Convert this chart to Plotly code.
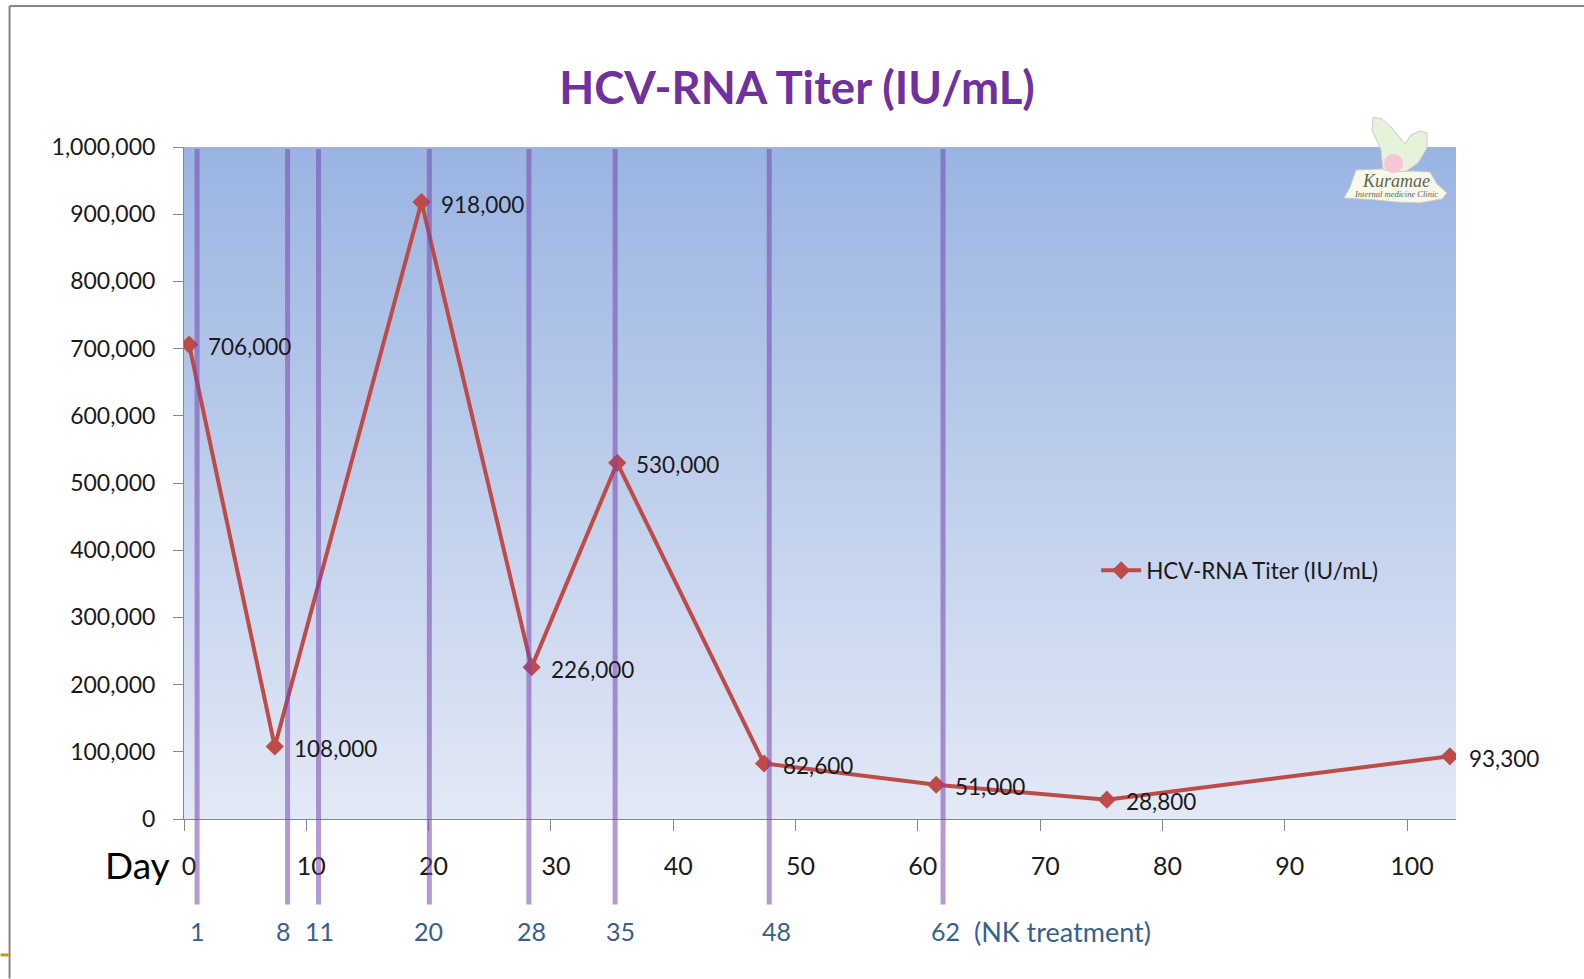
import plotly.graph_objects as go

W, H = 1584, 979
L, R, T, B = 183.5, 1456, 147, 819.5

days = [0.42, 7.42, 19.42, 28.42, 35.42, 47.42, 61.5, 75.45, 103.5]
titer = [706000, 108000, 918000, 226000, 530000, 82600, 51000, 28800, 93300]
value_labels = ["706,000", "108,000", "918,000", "226,000", "530,000", "82,600", "51,000", "28,800", "93,300"]
label_yshift = [-2, -2, -2, -2, -2, -2, -2, -2, -2]
nk_positions = [1.07, 8.47, 11.0, 20.06, 28.2, 35.25, 47.85, 62.06]
nk_labels = ["1", "8", "11", "20", "28", "35", "48", "62"]
nk_label_px = [197, 283, 319, 428, 531, 620, 776, 945]
x_ticks = [0, 10, 20, 30, 40, 50, 60, 70, 80, 90, 100]
y_ticks = [0, 100000, 200000, 300000, 400000, 500000, 600000, 700000, 800000, 900000, 1000000]

FONT = "Lato"
GREY = "#868686"


def px(p):
    return (p - L) / (R - L)


def py(p):
    return (B - p) / (B - T)


def path(points):
    return "M " + " L ".join(f"{px(a):.5f},{py(b):.5f}" for a, b in points) + " Z"


fig = go.Figure()
fig.add_trace(go.Heatmap(
    x=[0, 104], y=[0, 1000000], z=[[0, 0], [1, 1]], zsmooth="best", showscale=False,
    colorscale=[[0, "#E3E9F6"], [1, "#9AB4E2"]], hoverinfo="skip", showlegend=False,
))
fig.add_trace(go.Scatter(
    x=days, y=titer, mode="lines+markers", name="HCV-RNA Titer (IU/mL)",
    line=dict(color="#BE4B48", width=4),
    marker=dict(symbol="diamond", size=14, color="#BE4B48"),
))

shapes = []
for pos in nk_positions:
    shapes.append(dict(type="line", xref="x", yref="paper", x0=pos, x1=pos,
                       y0=py(905), y1=py(149),
                       line=dict(color="rgba(118,70,175,0.55)", width=5)))
# slide frame
shapes.append(dict(type="line", xref="paper", yref="paper", x0=px(9), x1=px(1584), y0=py(6), y1=py(6),
                   line=dict(color=GREY, width=2)))
shapes.append(dict(type="line", xref="paper", yref="paper", x0=px(9), x1=px(9), y0=py(6), y1=py(979),
                   line=dict(color=GREY, width=2)))
shapes.append(dict(type="line", xref="paper", yref="paper", x0=px(0), x1=px(8), y0=py(955.5), y1=py(955.5),
                   line=dict(color="#CC9900", width=3)))
# clinic logo
logo_line = dict(color="#C9CBC0", width=1)
shapes.append(dict(type="path", xref="paper", yref="paper", fillcolor="#E6F3DA", line=logo_line,
                   path=path([(1373, 117), (1382, 119), (1392, 128), (1405, 144), (1411, 135), (1420, 131),
                              (1427, 133), (1427, 148), (1418, 163), (1405, 172), (1383, 172), (1381, 150), (1372, 130)])))
shapes.append(dict(type="path", xref="paper", yref="paper", fillcolor="#F7F8EC", line=logo_line,
                   path=path([(1356, 170), (1382, 169), (1392, 172), (1412, 171), (1430, 172), (1437, 184),
                              (1447, 193), (1442, 199), (1420, 203), (1395, 202), (1375, 200), (1344, 198), (1350, 187)])))
shapes.append(dict(type="circle", xref="paper", yref="paper", fillcolor="#F7C6D6", line=dict(width=0),
                   x0=px(1384), x1=px(1403), y0=py(173), y1=py(154)))

ann = []
for d, v, t, s in zip(days, titer, value_labels, label_yshift):
    ann.append(dict(x=d, y=v, text=t, xref="x", yref="y", xanchor="left", yanchor="middle", showarrow=False,
                    xshift=17, yshift=s, font=dict(family=FONT, size=22.5, color="#1A1A1A")))
for t, p in zip(nk_labels, nk_label_px):
    ann.append(dict(x=px(p), y=py(932), text=t, xref="paper", yref="paper", xanchor="center", yanchor="middle",
                    showarrow=False, font=dict(family=FONT, size=25, color="#376092")))
ann.append(dict(x=px(972), y=py(932), text="(NK treatment)", xref="paper", yref="paper", xanchor="left",
                yanchor="middle", showarrow=False, font=dict(family=FONT, size=27, color="#376092")))
ann.append(dict(x=px(137), y=py(865), text="Day", xref="paper", yref="paper", xanchor="center", yanchor="middle",
                showarrow=False, font=dict(family=FONT, size=37, color="#000000")))
ann.append(dict(x=px(1396), y=py(181), text="<i>Kuramae</i>", xref="paper", yref="paper", xanchor="center",
                yanchor="middle", showarrow=False, font=dict(family="Liberation Serif", size=18, color="#5F6650")))
ann.append(dict(x=px(1396), y=py(194), text="<i>Internal medicine Clinic</i>", xref="paper", yref="paper",
                xanchor="center", yanchor="middle", showarrow=False,
                font=dict(family="Liberation Serif", size=8.5, color="#5F6650")))

fig.update_layout(
    width=W, height=H, margin=dict(l=L, r=W - R, t=T, b=H - B, pad=0),
    paper_bgcolor="#FFFFFF", plot_bgcolor="#FFFFFF",
    title=dict(text="<b>HCV-RNA Titer (IU/mL)</b>", x=797 / W, xanchor="center", y=1 - 88 / H, yanchor="middle",
               font=dict(family=FONT, size=45.5, color="#7030A0")),
    xaxis=dict(range=[0, 104], tickmode="array", tickvals=x_ticks, ticks="outside", ticklen=11, tickcolor=GREY,
               tickwidth=1, showline=True, linecolor=GREY, linewidth=1, showgrid=False, zeroline=False,
               ticklabelstandoff=14, ticklabelshift=5, tickfont=dict(family=FONT, size=25, color="#1A1A1A")),
    yaxis=dict(range=[0, 1000000], tickmode="array", tickvals=y_ticks, tickformat=",", ticks="outside", ticklen=10,
               tickcolor=GREY, tickwidth=1, showline=True, linecolor=GREY, linewidth=1, showgrid=False, zeroline=False,
               ticklabelstandoff=13, tickfont=dict(family=FONT, size=23, color="#1A1A1A")),
    legend=dict(x=px(1096), y=py(571), xanchor="left", yanchor="middle", bgcolor="rgba(0,0,0,0)",
                font=dict(family=FONT, size=22.5, color="#1A1A1A"), itemwidth=40),
    showlegend=True, shapes=shapes, annotations=ann,
)

fig.write_html("out.html", post_script="document.body.style.margin='0';", config={"displayModeBar": False})
